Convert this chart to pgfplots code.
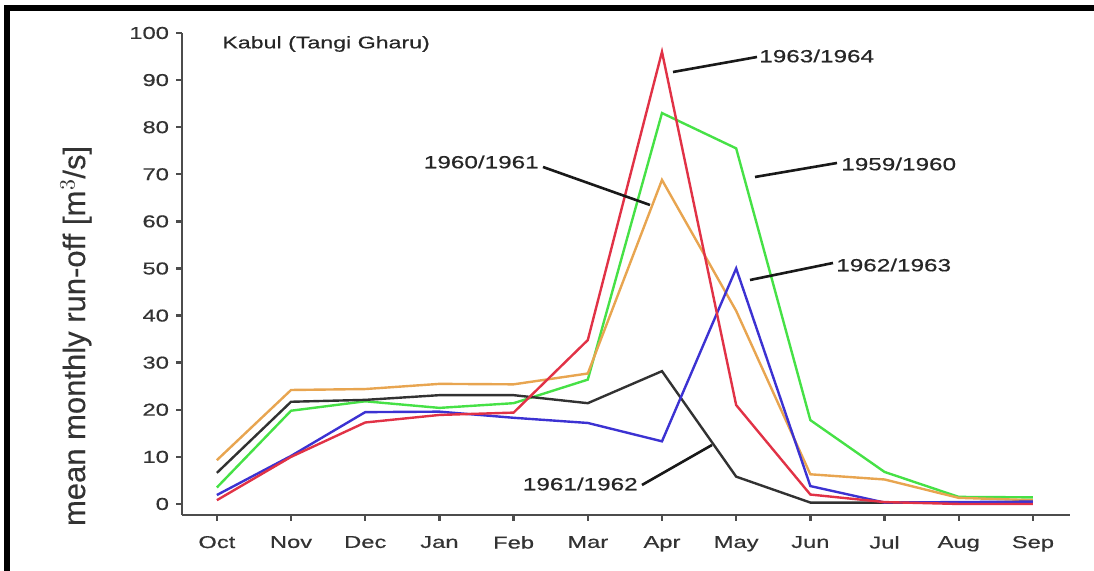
\documentclass[border=0pt]{standalone}
\usepackage{fontspec}
\setmainfont{Liberation Sans}[FakeStretch=1.38,FakeBold=0.5]
\newfontfamily\labfont{Liberation Sans}[FakeBold=0.3]
\usepackage{pgfplots}
\pgfplotsset{compat=1.18}
\definecolor{cgreen}{RGB}{70,225,70}
\definecolor{cred}{RGB}{225,50,70}
\definecolor{corange}{RGB}{232,165,80}
\definecolor{cblue}{RGB}{60,50,210}
\definecolor{cblack}{RGB}{50,50,50}
\begin{document}
\begin{tikzpicture}[x=0.5pt,y=0.5pt]
\useasboundingbox (0,0) rectangle (1094,571);
\begin{axis}[
  at={(91pt,28pt)}, anchor=south west,
  scale only axis, width=444pt, height=241pt,
  xmin=-0.47, xmax=11.5, ymin=-2.34, ymax=100,
  axis x line*=bottom, axis y line*=left,
  axis line style={-, black!70, line width=1.2pt},
  tick style={black!70, line width=1.2pt},
  tick align=outside, major tick length=3pt,
  xtick={0,...,11},
  xticklabels={Oct,Nov,Dec,Jan,Feb,Mar,Apr,May,Jun,Jul,Aug,Sep},
  ytick={0,10,...,100},
  /pgf/number format/assume math mode=true,
  ticklabel style={font=\fontsize{8.6}{10}\selectfont, text=black!80},
  xticklabel style={yshift=-4pt},
  clip=false,
]
\addplot[cgreen, line width=1.2pt] coordinates {(0,3.5) (1,19.8) (2,21.8) (3,20.4) (4,21.4) (5,26.4) (6,83) (7,75.5) (8,17.8) (9,6.8) (10,1.5) (11,1.4)};
\addplot[corange, line width=1.2pt] coordinates {(0,9.3) (1,24.2) (2,24.4) (3,25.5) (4,25.4) (5,27.7) (6,68.8) (7,41) (8,6.3) (9,5.2) (10,1.3) (11,0.8)};
\addplot[cblack, line width=1.2pt] coordinates {(0,6.6) (1,21.7) (2,22.1) (3,23.1) (4,23.1) (5,21.4) (6,28.2) (7,5.8) (8,0.3) (9,0.3) (10,0.3) (11,0.4)};
\addplot[cblue, line width=1.2pt] coordinates {(0,1.9) (1,10.2) (2,19.5) (3,19.6) (4,18.3) (5,17.2) (6,13.3) (7,50) (8,3.8) (9,0.3) (10,0.4) (11,0.5)};
\addplot[cred, line width=1.2pt] coordinates {(0,0.8) (1,10) (2,17.3) (3,18.9) (4,19.4) (5,34.8) (6,96) (7,21) (8,2) (9,0.4) (10,0) (11,0)};
\end{axis}
% frame
\draw[line width=3pt] (7,0) -- (7,563) -- (1094,563);
% title and y label
\node[anchor=west, font=\fontsize{8.4}{10}\selectfont, text=black!85, inner sep=0] at (222,527) {Kabul (Tangi Gharu)};
\node[rotate=90, font=\labfont\fontsize{15.5}{18}\selectfont, text=black!80, inner sep=0] at (76,235) {mean monthly run-off [m$^3$/s]};
% annotations
\begin{scope}[line width=1.3pt, black!90]
\draw (673,499) -- (757,514);
\node[anchor=west, font=\fontsize{8.8}{10}\selectfont, inner sep=0, text=black!85] at (758,515) {1963/1964};
\draw (543,404) -- (650,366);
\node[anchor=east, font=\fontsize{8.8}{10}\selectfont, inner sep=0, text=black!85] at (540,409) {1960/1961};
\draw (755,394) -- (837,408);
\node[anchor=west, font=\fontsize{8.8}{10}\selectfont, inner sep=0, text=black!85] at (840,407) {1959/1960};
\draw (750,291) -- (833,308);
\node[anchor=west, font=\fontsize{8.8}{10}\selectfont, inner sep=0, text=black!85] at (835,306) {1962/1963};
\draw (642,86) -- (712,126);
\node[anchor=east, font=\fontsize{8.8}{10}\selectfont, inner sep=0, text=black!85] at (639,87) {1961/1962};
\end{scope}
\end{tikzpicture}
\end{document}
